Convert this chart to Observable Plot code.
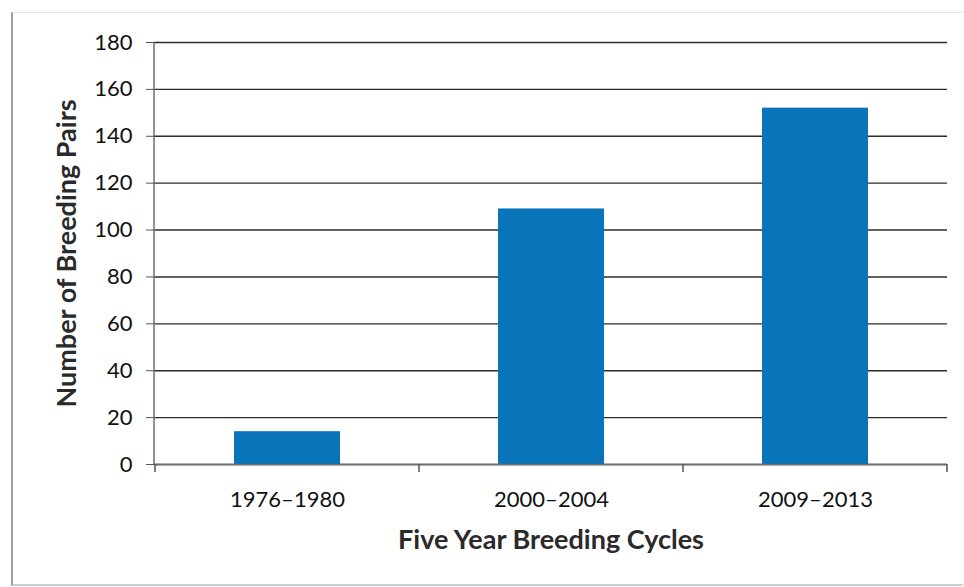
<!DOCTYPE html>
<html>
<head>
<meta charset="utf-8">
<script src="https://cdn.jsdelivr.net/npm/d3@7"></script>
<script src="https://cdn.jsdelivr.net/npm/@observablehq/plot@0.6"></script>
<style>
  body { margin: 0; background: #fff; }
  #chart { position: relative; width: 964px; height: 587px; }
  #frame {
    position: absolute; left: 11px; top: 12px; width: 950px; height: 571px;
    border-left: 2px solid #9c9c9c; border-top: 1px solid #e6e6e6; border-bottom: 2px solid #cdcdcd;
    pointer-events: none;
  }
</style>
</head>
<body>
<div id="chart"><div id="frame"></div></div>
<script>
// Breeding pairs counted in each five-year breeding cycle
const cycles = ["1976–1980", "2000–2004", "2009–2013"];
const pairs = [14, 109, 152];
const yTicks = [0, 20, 40, 60, 80, 100, 120, 140, 160, 180];

const data = cycles.map((cycle, i) => ({cycle, pairs: pairs[i]}));

// Left axis line plus small tick marks on the category boundaries of the x axis
const categoryFrame = (index, scales, values, dims) => {
  const x = scales.x;
  const bw = x.bandwidth();
  const starts = cycles.map((c) => x(c));
  const gap = starts.length > 1 ? starts[1] - starts[0] - bw : 0;
  const bounds = starts.map((s) => s - gap / 2).concat(starts[starts.length - 1] + bw + gap / 2);
  const y0 = dims.height - dims.marginBottom;
  const g = d3.create("svg:g");
  g.append("line")
    .attr("x1", dims.marginLeft).attr("x2", dims.marginLeft)
    .attr("y1", dims.marginTop).attr("y2", y0)
    .attr("stroke", "#6e6e6e").attr("stroke-width", 1.5);
  g.selectAll("line.tick").data(bounds).join("line")
    .attr("class", "tick")
    .attr("x1", (d) => d).attr("x2", (d) => d)
    .attr("y1", y0).attr("y2", y0 + 8)
    .attr("stroke", "#555").attr("stroke-width", 1.5);
  return g.node();
};

const chart = Plot.plot({
  width: 964,
  height: 587,
  marginLeft: 154,
  marginRight: 17,
  marginTop: 42,
  marginBottom: 123,
  style: {fontFamily: "Lato, 'Open Sans', sans-serif", fontSize: "22px", color: "#111", background: "transparent"},
  x: {domain: cycles, paddingInner: 0.6, paddingOuter: 0.3},
  y: {domain: [0, 180]},
  marks: [
    Plot.gridY(yTicks, {stroke: "#2b2b2b", strokeOpacity: 1, strokeWidth: 1.4}),
    Plot.barY(data, {x: "cycle", y: "pairs", fill: "#0a74ba"}),
    Plot.ruleY([0], {stroke: "#6e6e6e", strokeWidth: 1.5}),
    categoryFrame,
    Plot.axisY(yTicks, {tickSize: 8, tickPadding: 14, stroke: "#555", label: null, fontSize: 22}),
    Plot.axisX({tickSize: 0, tickPadding: 27, label: null, fontSize: 22}),
    Plot.text(["Five Year Breeding Cycles"], {frameAnchor: "bottom", dy: 84, fontWeight: "bold", fontSize: 27, fill: "#2a2a2a"}),
    Plot.text(["Number of Breeding Pairs"], {frameAnchor: "left", textAnchor: "middle", dx: -87, rotate: -90, fontWeight: "bold", fontSize: 27, fill: "#2a2a2a"})
  ]
});

document.getElementById("chart").appendChild(chart);
</script>
</body>
</html>
